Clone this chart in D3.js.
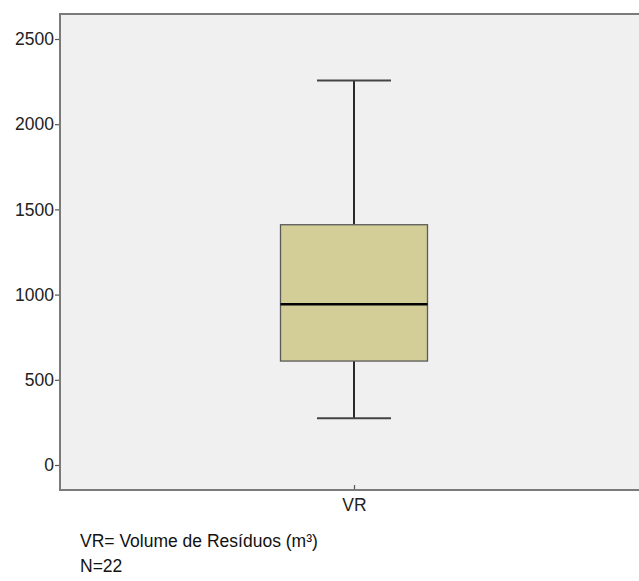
<!DOCTYPE html>
<html>
<head>
<meta charset="utf-8">
<script src="https://cdn.jsdelivr.net/npm/d3@7"></script>
<style>
  body { margin: 0; background: #fff; }
  svg { display: block; font-family: Arial, "Liberation Sans", sans-serif; }
</style>
</head>
<body>
<div id="chart"></div>
<script>
// data
const categories = ['VR'];
const whiskerLow = [275];
const quartile1 = [610];
const median = [943];
const quartile3 = [1410];
const whiskerHigh = [2257];
const yTicks = [0, 500, 1000, 1500, 2000, 2500];
const notes = ['VR= Volume de Resíduos (m³)', 'N=22'];

const width = 639, height = 581;
const plot = { left: 60, right: 660, top: 14, bottom: 490 };
const fontSize = 17.5;

const svg = d3.select('#chart').append('svg').attr('width', width).attr('height', height);

// plot background
svg.append('rect')
  .attr('x', plot.left).attr('y', plot.top)
  .attr('width', plot.right - plot.left).attr('height', plot.bottom - plot.top)
  .attr('fill', '#f0f0f0');

const y = d3.scaleLinear().domain([0, 2500]).range([465, 39]);
const x = d3.scalePoint().domain(categories).range([plot.left, 648]).padding(0.5);
const boxW = 147, capW = 74;

// y axis
const yAxis = svg.append('g')
  .attr('transform', `translate(${plot.left},0)`)
  .call(d3.axisLeft(y).tickValues(yTicks).tickSize(5).tickPadding(1).tickFormat(d3.format('d')));
yAxis.select('.domain').remove();
yAxis.selectAll('line').attr('stroke', '#555').attr('stroke-width', 1.2);
yAxis.selectAll('text').attr('font-size', fontSize).attr('fill', '#222').attr('font-family', 'Arial, "Liberation Sans", sans-serif');

// x axis
const xAxis = svg.append('g')
  .attr('transform', `translate(0,${plot.bottom})`)
  .call(d3.axisBottom(x).tickSize(5).tickPadding(2).tickSizeOuter(0));
xAxis.select('.domain').remove();
xAxis.selectAll('line').attr('stroke', '#555').attr('stroke-width', 1.2).attr('y1', -5).attr('y2', 0);
xAxis.selectAll('text').attr('font-size', fontSize).attr('fill', '#222').attr('dy', '0.8em').attr('font-family', 'Arial, "Liberation Sans", sans-serif');

// frame (left, top, bottom)
svg.append('path')
  .attr('d', `M${plot.right},${plot.top}H${plot.left}V${plot.bottom}H${plot.right}`)
  .attr('fill', 'none').attr('stroke', '#7a7a7a').attr('stroke-width', 2);

// boxes
const data = categories.map((c, i) => ({
  c, lo: whiskerLow[i], q1: quartile1[i], med: median[i], q3: quartile3[i], hi: whiskerHigh[i]
}));

const g = svg.append('g').selectAll('g').data(data).enter().append('g');

g.append('line')
  .attr('x1', d => x(d.c)).attr('x2', d => x(d.c))
  .attr('y1', d => y(d.hi)).attr('y2', d => y(d.q3))
  .attr('stroke', '#2a2a2a').attr('stroke-width', 2);
g.append('line')
  .attr('x1', d => x(d.c)).attr('x2', d => x(d.c))
  .attr('y1', d => y(d.q1)).attr('y2', d => y(d.lo))
  .attr('stroke', '#2a2a2a').attr('stroke-width', 2);

g.selectAll('.cap').data(d => [d.lo, d.hi].map(v => ({ c: d.c, v }))).enter().append('line')
  .attr('class', 'cap')
  .attr('x1', d => x(d.c) - capW / 2).attr('x2', d => x(d.c) + capW / 2)
  .attr('y1', d => y(d.v)).attr('y2', d => y(d.v))
  .attr('stroke', '#444').attr('stroke-width', 2);

g.append('rect')
  .attr('x', d => x(d.c) - boxW / 2).attr('width', boxW)
  .attr('y', d => y(d.q3)).attr('height', d => y(d.q1) - y(d.q3))
  .attr('fill', '#d3ce98').attr('stroke', '#5a5a5a').attr('stroke-width', 1.3);

g.append('line')
  .attr('x1', d => x(d.c) - boxW / 2).attr('x2', d => x(d.c) + boxW / 2)
  .attr('y1', d => y(d.med)).attr('y2', d => y(d.med))
  .attr('stroke', '#000').attr('stroke-width', 2.5);

// notes under the chart
svg.append('g').selectAll('text').data(notes).enter().append('text')
  .attr('x', 80).attr('y', (d, i) => 547 + i * 25)
  .attr('font-size', fontSize).attr('fill', '#111')
  .text(d => d);
</script>
</body>
</html>
